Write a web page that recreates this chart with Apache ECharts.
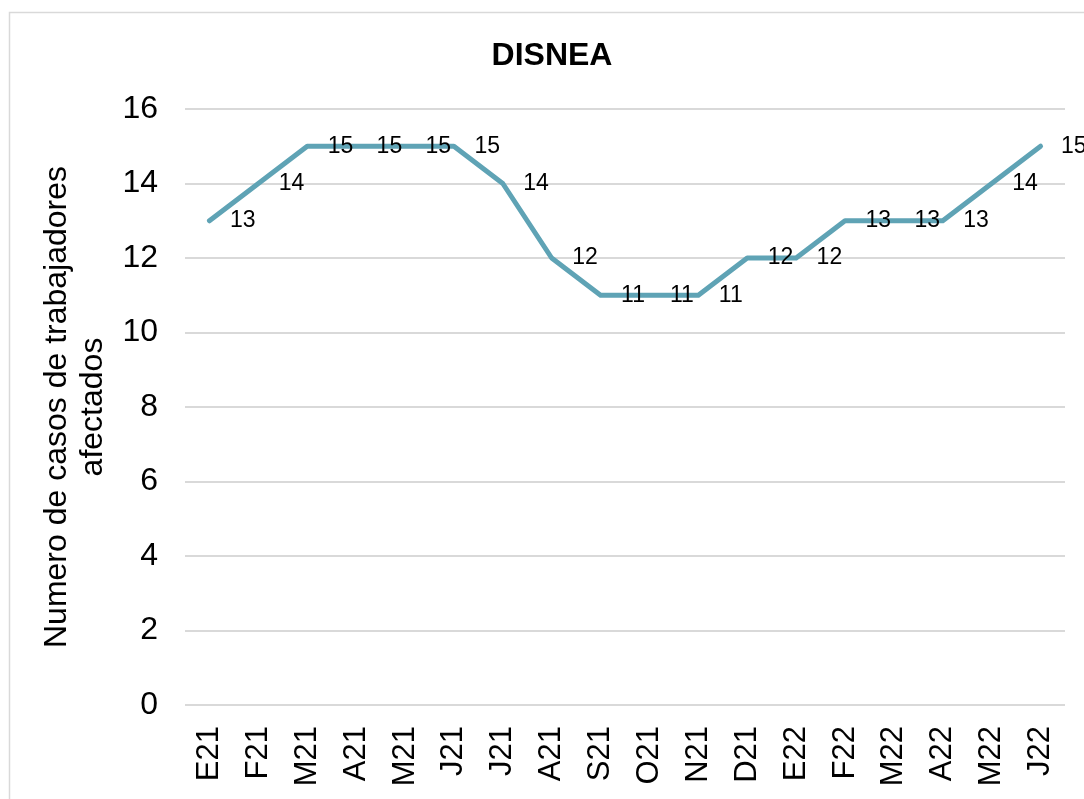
<!DOCTYPE html>
<html>
<head>
<meta charset="utf-8">
<script src="https://cdn.jsdelivr.net/npm/echarts@6/dist/echarts.min.js"></script>
<style>
html,body{margin:0;padding:0;background:#fff;}
#chart{width:1084px;height:799px;}
</style>
</head>
<body>
<div id="chart"></div>
<script>
const categories = ['E21','F21','M21','A21','M21','J21','J21','A21','S21','O21','N21','D21','E22','F22','M22','A22','M22','J22'];
const values = [13,14,15,15,15,15,14,12,11,11,11,12,12,13,13,13,14,15];
const yTicks = {min:0, max:16, interval:2};
const titleText = 'DISNEA';
const yAxisName = 'Numero de casos de trabajadores\nafectados';

const FONT = 'Liberation Sans, Arial, sans-serif';
const chart = echarts.init(document.getElementById('chart'), null, {renderer:'canvas'});
chart.setOption({
  backgroundColor:'#fff',
  animation:false,
  graphic:[{
    type:'rect', left:7, top:10, shape:{x:0,y:0,width:1200,height:900},
    style:{fill:'none', stroke:'#d9d9d9', lineWidth:1.5}, silent:true, z:-1
  }],
  title:{
    text:titleText, left:547, top:35, textAlign:'center',
    textStyle:{fontFamily:FONT, fontSize:32, fontWeight:'bold', color:'#000'}
  },
  grid:{left:185, right:19, top:109, bottom:94, containLabel:false},
  xAxis:{
    type:'category', data:categories, boundaryGap:true,
    axisLine:{show:false}, axisTick:{show:false},
    axisLabel:{rotate:90, margin:21, fontFamily:FONT, fontSize:31, color:'#000', interval:0}
  },
  yAxis:{
    type:'value', min:yTicks.min, max:yTicks.max, interval:yTicks.interval,
    name:yAxisName, nameLocation:'middle', nameRotate:90, nameGap:71,
    nameTextStyle:{fontFamily:FONT, fontSize:32, color:'#000', lineHeight:36, align:'center'},
    axisLine:{show:false}, axisTick:{show:false},
    axisLabel:{margin:27, fontFamily:FONT, fontSize:32, color:'#000'},
    splitLine:{lineStyle:{color:'#d9d9d9', width:2}}
  },
  series:[{
    type:'line', data:values, symbol:'circle', symbolSize:1, showSymbol:true,
    itemStyle:{color:'#5fa3b5'},
    lineStyle:{color:'#5fa3b5', width:5, cap:'round', join:'round'},
    label:{show:true, position:'right', distance:20, offset:[0,2], fontFamily:FONT, fontSize:23, color:'#000'},
    labelLayout:{hideOverlap:false}
  }]
});
</script>
</body>
</html>
